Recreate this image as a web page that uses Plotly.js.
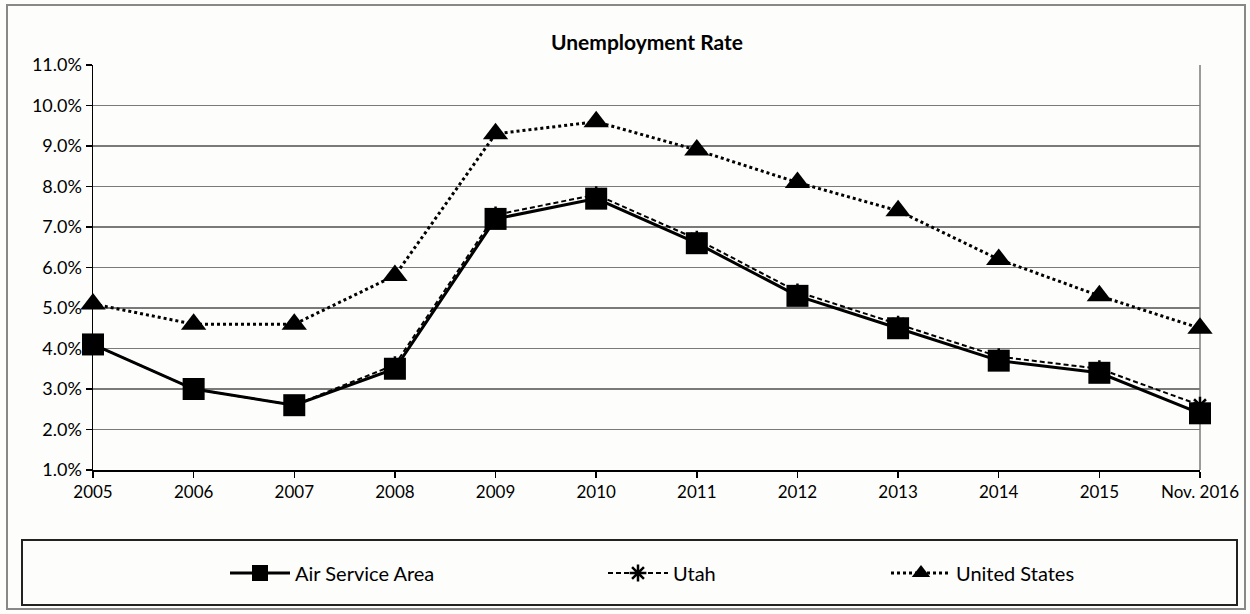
<!DOCTYPE html>
<html>
<head>
<meta charset="utf-8">
<script src="https://cdn.plot.ly/plotly-3.0.1.min.js"></script>
<style>html,body{margin:0;padding:0;background:#fff;}#chart{width:1250px;height:614px;}</style>
</head>
<body>
<div id="chart"></div>
<script>
const categories = ["2005","2006","2007","2008","2009","2010","2011","2012","2013","2014","2015","Nov. 2016"];
const airServiceArea = [4.1, 3.0, 2.6, 3.5, 7.2, 7.7, 6.6, 5.3, 4.5, 3.7, 3.4, 2.4];
const utah = [4.1, 3.0, 2.6, 3.6, 7.3, 7.8, 6.7, 5.4, 4.6, 3.8, 3.5, 2.6];
const unitedStates = [5.1, 4.6, 4.6, 5.8, 9.3, 9.6, 8.9, 8.1, 7.4, 6.2, 5.3, 4.5];
const yTicks = [1,2,3,4,5,6,7,8,9,10,11];
const yTickLabels = yTicks.map(v => v.toFixed(1) + "%");

const FONT = "Lato, sans-serif";

const traces = [
  {name: "United States", x: categories, y: unitedStates, type: "scatter", mode: "lines+markers",
   line: {color: "#000", width: 3, dash: "dot"}, cliponaxis: false,
   marker: {symbol: "triangle-up", size: 22, color: "#000"}, legend: "legend3"},
  {name: "Utah", x: categories, y: utah, type: "scatter", mode: "lines+markers",
   line: {color: "#000", width: 2, dash: "5px,3px"}, cliponaxis: false,
   marker: {symbol: "asterisk-open", size: 14, color: "#000", line: {color: "#000", width: 2.5}}, legend: "legend2"},
  {name: "Air Service Area", x: categories, y: airServiceArea, type: "scatter", mode: "lines+markers",
   line: {color: "#000", width: 3}, cliponaxis: false,
   marker: {symbol: "square", size: 22, color: "#000"}, legend: "legend"}
];

const W = 1107, H = 405, L = 93, T = 65;
const px = x => (x - L) / W;
const py = y => (T + H - y) / H;

const legendCommon = {orientation: "h", xanchor: "left", yanchor: "middle", y: py(573),
  bgcolor: "rgba(0,0,0,0)", borderwidth: 0, itemwidth: 60, font: {family: FONT, size: 20, color: "#000"}};

const layout = {
  width: 1250, height: 614,
  margin: {l: 93, r: 50, t: 65, b: 144},
  paper_bgcolor: "#fdfdfb", plot_bgcolor: "#fdfdfb",
  title: {text: "<b>Unemployment Rate</b>", x: 647/1250, xanchor: "center", y: 1 - 43/614, yanchor: "middle",
          font: {family: FONT, size: 21, color: "#000"}},
  xaxis: {type: "category", range: [0, categories.length - 1], tickvals: categories, ticktext: categories,
          showgrid: false, zeroline: false, showline: true, linecolor: "#000", linewidth: 1.5,
          ticks: "outside", ticklen: 6, tickcolor: "#000", tickwidth: 1.5,
          tickfont: {family: FONT, size: 17, color: "#000"}},
  yaxis: {range: [1, 11], tickvals: yTicks, ticktext: yTickLabels,
          showgrid: true, gridcolor: "#7a7a7a", gridwidth: 1.5, zeroline: false,
          showline: true, linecolor: "#000", linewidth: 1.5,
          ticks: "outside", ticklen: 6, tickcolor: "#000", tickwidth: 1.5,
          tickfont: {family: FONT, size: 18, color: "#000"}},
  showlegend: true,
  legend: Object.assign({}, legendCommon, {x: px(225)}),
  legend2: Object.assign({}, legendCommon, {x: px(603)}),
  legend3: Object.assign({}, legendCommon, {x: px(886)}),
  shapes: [
    {type: "rect", xref: "paper", yref: "paper", x0: px(7), x1: px(1245), y0: py(609), y1: py(5),
     line: {color: "#888", width: 2}, fillcolor: "rgba(0,0,0,0)", layer: "below"},
    {type: "rect", xref: "paper", yref: "paper", x0: px(22), x1: px(1237), y0: py(605), y1: py(540),
     line: {color: "#222", width: 2}, fillcolor: "rgba(0,0,0,0)"},
    {type: "line", xref: "paper", yref: "paper", x0: 1, x1: 1, y0: 0, y1: 1,
     line: {color: "#7a7a7a", width: 1.5}, layer: "below"}
  ]
};

Plotly.newPlot("chart", traces, layout, {displayModeBar: false, staticPlot: true});
</script>
</body>
</html>
